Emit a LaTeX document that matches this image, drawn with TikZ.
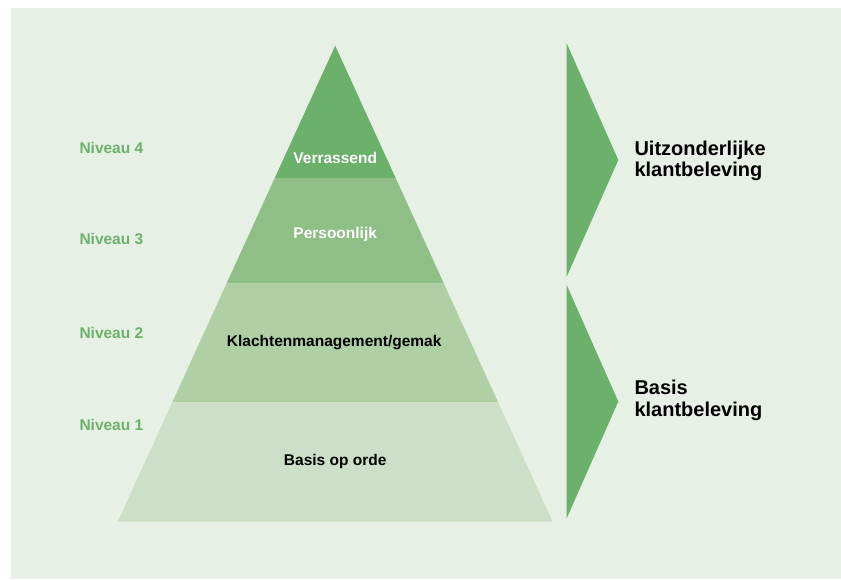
\documentclass[tikz,border=0pt]{standalone}
\usepackage{fontspec}
\setmainfont{Liberation Sans}
\usetikzlibrary{calc}

\definecolor{bgpanel}{HTML}{E7F0E4}
\definecolor{greenA}{HTML}{6CB16B}
\definecolor{greenB}{HTML}{8FBF87}
\definecolor{greenC}{HTML}{AFD0A5}
\definecolor{greenD}{HTML}{CDE0C7}

\tikzset{
  layerlabel/.style={anchor=base, inner sep=0pt, font=\bfseries\fontsize{15.5}{18}\selectfont},
  levellabel/.style={anchor=base west, inner sep=0pt, text=greenA, font=\bfseries\fontsize{15.5}{18}\selectfont},
  sidelabel/.style={anchor=base west, inner sep=0pt, text=black, font=\bfseries\fontsize{20}{22}\selectfont},
  marker/.style={fill=greenA, draw=none}
}

\begin{document}
\begin{tikzpicture}[x=1pt, y=-1pt]
  \useasboundingbox (0,0) rectangle (841,579);
  \fill[white] (0,0) rectangle (841,579);
  \fill[bgpanel] (11,8) rectangle (841,579);

  % pyramid outline points
  \coordinate (apex) at (335.2,45.7);
  \coordinate (bl) at (117.7,521.7);
  \coordinate (br) at (552.7,521.7);
  \coordinate (l1) at ($(apex)!0.2779!(bl)$);
  \coordinate (r1) at ($(apex)!0.2779!(br)$);
  \coordinate (l2) at ($(apex)!0.4985!(bl)$);
  \coordinate (r2) at ($(apex)!0.4985!(br)$);
  \coordinate (l3) at ($(apex)!0.7492!(bl)$);
  \coordinate (r3) at ($(apex)!0.7492!(br)$);

  % pyramid layers, top to bottom
  \fill[greenA] (apex) -- (r1) -- (l1) -- cycle;
  \fill[greenB] (l1) -- (r1) -- (r2) -- (l2) -- cycle;
  \fill[greenC] (l2) -- (r2) -- (r3) -- (l3) -- cycle;
  \fill[greenD] (l3) -- (r3) -- (br) -- (bl) -- cycle;

  % layer texts
  \node[layerlabel, text=white] (verrassend) at (335.2,163.3) {Verrassend};
  \node[layerlabel, text=white] (persoonlijk) at (335.2,238.5) {Persoonlijk};
  \node[layerlabel, text=black] (klachten) at (334.2,346.5) {Klachtenmanagement/gemak};
  \node[layerlabel, text=black] (basis) at (335.2,465) {Basis op orde};

  % level names
  \node[levellabel] (niv4) at (79.3,153.3) {Niveau 4};
  \node[levellabel] (niv3) at (79.3,244.3) {Niveau 3};
  \node[levellabel] (niv2) at (79.3,338.3) {Niveau 2};
  \node[levellabel] (niv1) at (79.3,430) {Niveau 1};

  % bracket markers on the right
  \fill[marker] (566.7,43.3) -- (618.3,160) -- (566.7,276.7) -- cycle;
  \fill[marker] (566.7,285) -- (618.3,401.5) -- (566.7,518.3) -- cycle;

  % group descriptions
  \node[sidelabel] (uitz1) at (634.3,155) {Uitzonderlijke};
  \node[sidelabel] (uitz2) at (634.3,176.7) {klantbeleving};
  \node[sidelabel] (basis1) at (634.3,394) {Basis};
  \node[sidelabel] (basis2) at (634.3,416.7) {klantbeleving};
\end{tikzpicture}
\end{document}
